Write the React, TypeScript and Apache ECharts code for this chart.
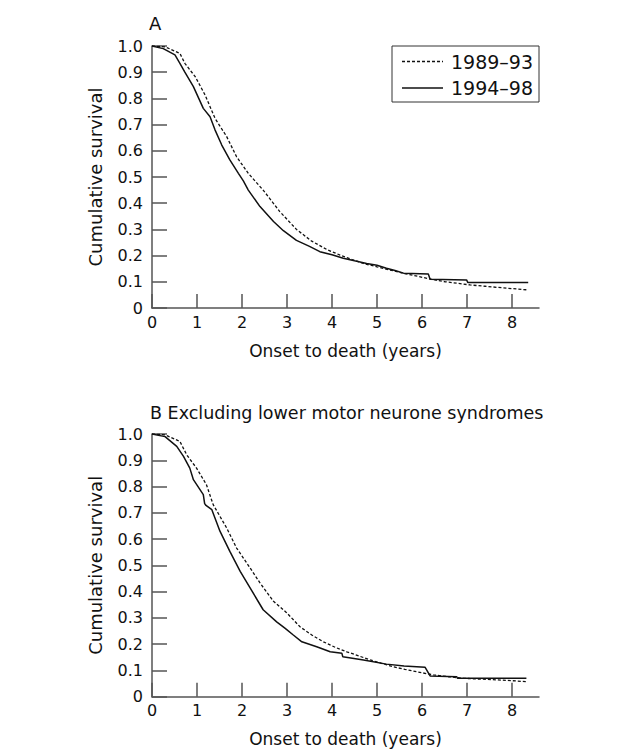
import React, { useEffect, useRef } from "react";
import * as echarts from "echarts";

const FONT = "DejaVu Sans";
const SERIES_NAMES = ["1989–93", "1994–98"];
const X_TICKS = [0, 1, 2, 3, 4, 5, 6, 7, 8];

// Panel A: 1989–93 (dashed)
const tA89 = [0, 0.29, 0.62, 0.73, 0.96, 1.18, 1.4, 1.66, 1.88, 2.14, 2.47, 2.84, 3.21, 3.55, 3.9, 4.18, 4.45, 4.7, 5.0, 5.29, 5.6, 5.93, 6.2, 6.52, 6.8, 7.07, 7.4, 7.66, 8.0, 8.36];
const sA89 = [1.0, 0.997, 0.972, 0.934, 0.883, 0.813, 0.724, 0.654, 0.577, 0.514, 0.45, 0.368, 0.3, 0.255, 0.222, 0.202, 0.185, 0.17, 0.157, 0.145, 0.132, 0.12, 0.11, 0.1, 0.094, 0.088, 0.083, 0.079, 0.074, 0.069];
// Panel A: 1994–98 (solid)
const tA94 = [0, 0.25, 0.51, 0.62, 0.73, 0.92, 1.14, 1.29, 1.4, 1.55, 1.73, 1.92, 2.03, 2.14, 2.4, 2.7, 2.92, 3.21, 3.5, 3.73, 4.0, 4.25, 4.5, 4.77, 5.0, 5.21, 5.4, 5.59, 6.14, 6.18, 6.99, 7.02, 8.36];
const sA94 = [1.0, 0.99, 0.966, 0.934, 0.9, 0.845, 0.762, 0.73, 0.68, 0.622, 0.565, 0.514, 0.485, 0.45, 0.387, 0.33, 0.295, 0.258, 0.235, 0.215, 0.203, 0.19, 0.18, 0.17, 0.163, 0.152, 0.143, 0.133, 0.13, 0.11, 0.107, 0.097, 0.097];
// Panel B: 1989–93 (dashed)
const tB89 = [0, 0.29, 0.62, 0.77, 0.99, 1.21, 1.36, 1.66, 1.88, 2.18, 2.4, 2.7, 2.99, 3.29, 3.55, 3.81, 4.07, 4.33, 4.6, 4.85, 5.1, 5.36, 5.62, 5.88, 6.25, 6.6, 6.92, 7.3, 7.66, 8.0, 8.32];
const sB89 = [1.0, 0.997, 0.972, 0.921, 0.87, 0.807, 0.731, 0.642, 0.566, 0.49, 0.433, 0.363, 0.32, 0.266, 0.235, 0.209, 0.188, 0.171, 0.155, 0.14, 0.127, 0.114, 0.104, 0.095, 0.083, 0.076, 0.07, 0.067, 0.064, 0.061, 0.057];
// Panel B: 1994–98 (solid)
const tB94 = [0, 0.29, 0.55, 0.7, 0.84, 0.92, 1.14, 1.17, 1.2, 1.33, 1.51, 1.73, 1.96, 2.18, 2.47, 2.77, 2.96, 3.14, 3.33, 3.66, 3.96, 4.22, 4.24, 4.7, 5.21, 5.6, 6.07, 6.18, 6.77, 6.79, 8.32];
const sB94 = [1.0, 0.99, 0.953, 0.915, 0.87, 0.826, 0.769, 0.735, 0.728, 0.712, 0.63, 0.553, 0.477, 0.414, 0.331, 0.285, 0.26, 0.235, 0.209, 0.19, 0.171, 0.165, 0.152, 0.14, 0.124, 0.117, 0.112, 0.079, 0.076, 0.07, 0.07];

const AXIS_COLOR = "#555";
const INK = "#111";
const DASH = [3, 2];

function xAxis(gridIndex: number) {
  return {
    type: "value",
    gridIndex,
    min: 0,
    max: 8.6,
    name: "Onset to death (years)",
    nameLocation: "middle",
    nameGap: 34,
    nameTextStyle: { fontFamily: FONT, fontSize: 17, color: INK },
    axisLine: { show: true, lineStyle: { color: AXIS_COLOR, width: 1.5 } },
    axisTick: { show: true, inside: true, length: 14, customValues: X_TICKS, lineStyle: { color: AXIS_COLOR, width: 1.5 } },
    axisLabel: { customValues: X_TICKS, fontFamily: FONT, fontSize: 16, color: INK, margin: 6 },
    splitLine: { show: false },
  };
}

function yAxis(gridIndex: number) {
  return {
    type: "value",
    gridIndex,
    min: 0,
    max: 1,
    interval: 0.1,
    name: "Cumulative survival",
    nameLocation: "middle",
    nameGap: 48,
    nameTextStyle: { fontFamily: FONT, fontSize: 18, color: INK },
    axisLine: { show: true, lineStyle: { color: AXIS_COLOR, width: 1.5 } },
    axisTick: { show: true, inside: true, length: 15, lineStyle: { color: AXIS_COLOR, width: 1.5 } },
    axisLabel: {
      fontFamily: FONT,
      fontSize: 16,
      color: INK,
      margin: 9,
      formatter: (v: number) => (v === 0 ? "0" : v.toFixed(1)),
    },
    splitLine: { show: false },
  };
}

function series(name: string, t: number[], s: number[], idx: number, dashed: boolean) {
  return {
    name,
    type: "line",
    xAxisIndex: idx,
    yAxisIndex: idx,
    symbol: "none",
    showSymbol: false,
    silent: true,
    data: t.map((x, i) => [x, s[i]]),
    lineStyle: { color: INK, width: dashed ? 1.3 : 1.5, type: dashed ? DASH : "solid" },
  };
}

function legendGraphic() {
  const left = 392;
  const top = 46;
  const rows = [61.5, 88];
  const items: any[] = [
    { type: "rect", shape: { x: left, y: top, width: 147, height: 56 }, style: { fill: "#fff", stroke: "#333", lineWidth: 1 } },
  ];
  SERIES_NAMES.forEach((name, i) => {
    const y = rows[i];
    items.push({
      type: "line",
      shape: { x1: 402, y1: y, x2: 443, y2: y },
      style: { stroke: INK, lineWidth: i === 0 ? 1.3 : 1.5, lineDash: i === 0 ? DASH : null },
    });
    items.push({
      type: "text",
      x: 451,
      y,
      style: { text: name, fontFamily: FONT, fontSize: 19, fill: INK, verticalAlign: "middle", align: "left" },
    });
  });
  return items;
}

export default function App() {
  const ref = useRef<HTMLDivElement>(null);
  useEffect(() => {
    if (!ref.current) return;
    const chart = echarts.init(ref.current, undefined, { renderer: "svg" });
    chart.setOption({
      animation: false,
      backgroundColor: "#fff",
      grid: [
        { left: 152, top: 46, width: 387, height: 262 },
        { left: 152, top: 434, width: 387, height: 262.7 },
      ],
      xAxis: [xAxis(0), xAxis(1)],
      yAxis: [yAxis(0), yAxis(1)],
      graphic: [
        { type: "text", left: 149, top: 14, style: { text: "A", fontFamily: FONT, fontSize: 18, fill: INK } },
        {
          type: "text",
          left: 150,
          top: 404,
          style: { text: "B Excluding lower motor neurone syndromes", fontFamily: FONT, fontSize: 17.5, fill: INK },
        },
        ...legendGraphic(),
      ],
      series: [
        series(SERIES_NAMES[0], tA89, sA89, 0, true),
        series(SERIES_NAMES[1], tA94, sA94, 0, false),
        series(SERIES_NAMES[0], tB89, sB89, 1, true),
        series(SERIES_NAMES[1], tB94, sB94, 1, false),
      ],
    });
    return () => chart.dispose();
  }, []);
  return <div ref={ref} style={{ position: "fixed", left: 0, top: 0, width: 627, height: 751, background: "#fff" }} />;
}
